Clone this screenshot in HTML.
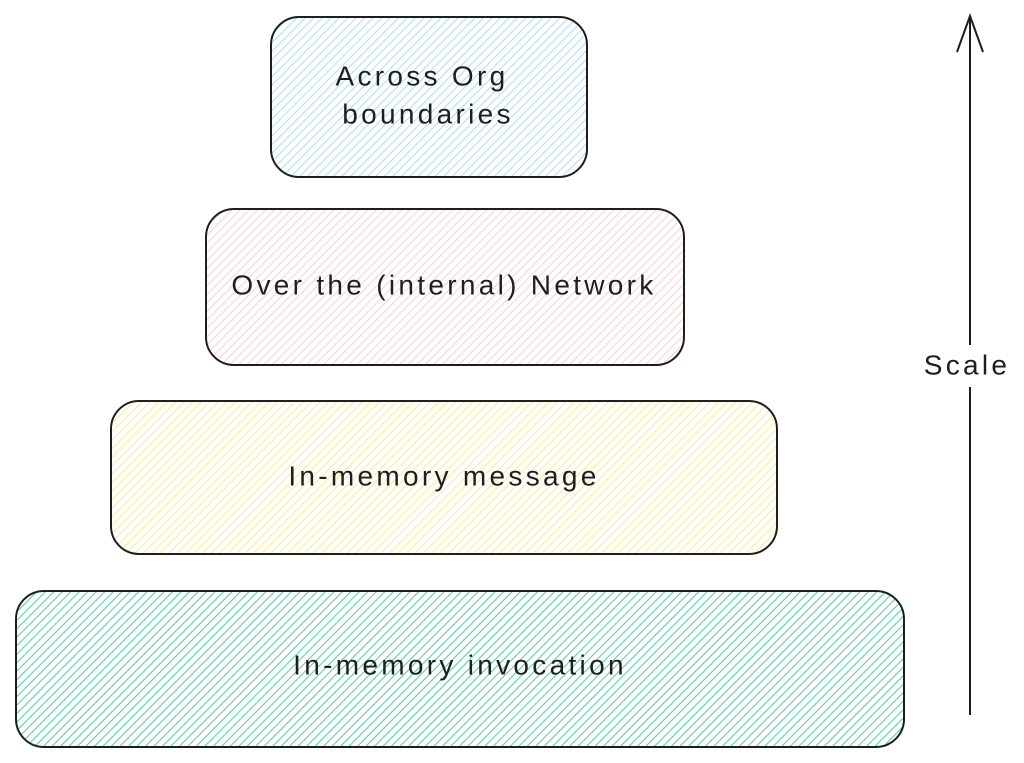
<!DOCTYPE html>
<html><head><meta charset="utf-8"><style>
html,body{margin:0;padding:0;background:#fff;}
svg{display:block}
text{font-family:"Liberation Sans",sans-serif;font-size:28px;letter-spacing:3.3px;fill:#1e1e1e;text-anchor:middle;dominant-baseline:middle}
</style></head><body>
<svg width="1024" height="763" viewBox="0 0 1024 763" xmlns="http://www.w3.org/2000/svg">
<defs>
<pattern id="hb" width="6" height="6" patternUnits="userSpaceOnUse" patternTransform="rotate(45)"><line x1="0" y1="0" x2="0" y2="6" stroke="#a5d8ff" stroke-width="1.8"/></pattern>
<pattern id="hr" width="6" height="6" patternUnits="userSpaceOnUse" patternTransform="rotate(45)"><line x1="0" y1="0" x2="0" y2="6" stroke="#ffc9c9" stroke-width="1.8"/></pattern>
<pattern id="hy" width="6" height="6" patternUnits="userSpaceOnUse" patternTransform="rotate(45)"><line x1="0" y1="0" x2="0" y2="6" stroke="#ffe680" stroke-width="1.8"/></pattern>
<pattern id="hg" width="6" height="6" patternUnits="userSpaceOnUse" patternTransform="rotate(45)"><line x1="0" y1="0" x2="0" y2="6" stroke="#3cc79a" stroke-width="1.8"/></pattern>
</defs>
<rect x="271" y="17" width="316" height="160" rx="28" fill="url(#hb)" stroke="#1e1e1e" stroke-width="2"/>
<rect x="206" y="209" width="478" height="156" rx="28" fill="url(#hr)" stroke="#1e1e1e" stroke-width="2"/>
<rect x="111" y="401" width="666" height="153" rx="28" fill="url(#hy)" stroke="#1e1e1e" stroke-width="2"/>
<rect x="16" y="591" width="888" height="156" rx="28" fill="url(#hg)" stroke="#1e1e1e" stroke-width="2"/>
<text x="422" y="78">Across Org</text>
<text x="428" y="116">boundaries</text>
<text x="444" y="287">Over the (internal) Network</text>
<text x="444" y="478">In-memory message</text>
<text x="460" y="667">In-memory invocation</text>
<line x1="970" y1="715" x2="970" y2="18" stroke="#1e1e1e" stroke-width="2"/>
<polyline points="957,52 970,16 983,52" fill="none" stroke="#1e1e1e" stroke-width="2"/>
<rect x="924" y="345" width="90" height="42" fill="#fff"/>
<text x="967" y="367">Scale</text>
</svg>
</body></html>
